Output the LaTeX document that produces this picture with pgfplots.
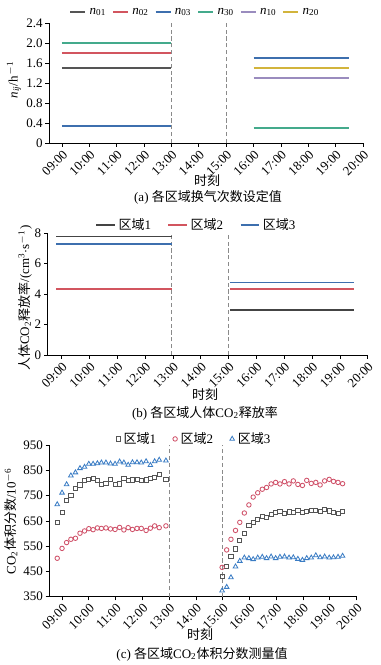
\documentclass[border=0pt]{standalone}
\usepackage{pgfplots}
\pgfplotsset{compat=1.18}
\usepackage{pgfplotstable}
\usepackage{fontspec}
\setmainfont{Liberation Serif}
\newfontfamily\cjk{Noto Sans CJK SC}
\newcommand{\zh}[1]{{\cjk #1}}
\newcommand{\fs}{\fontsize{7.8}{9}\selectfont}

\definecolor{cgray}{HTML}{555555}
\definecolor{cred}{HTML}{D2555F}
\definecolor{cblue}{HTML}{3D6FAE}
\definecolor{cteal}{HTML}{44AA8C}
\definecolor{cpurp}{HTML}{9A8CBE}
\definecolor{cyell}{HTML}{D2B43C}
\definecolor{cdash}{HTML}{8A8A8A}
\definecolor{mred}{HTML}{CF5068}
\definecolor{mblue}{HTML}{3A7CC4}

\pgfplotstableread{
t r1 r2 r3
8.82 644 502 715
9.00 684 541 761
9.17 730 564 794
9.33 751 577 829
9.50 779 581 841
9.67 792 601 858
9.84 809 610 863
10.00 815 619 875
10.16 818 615 875
10.32 809 622 877
10.47 793 620 880
10.64 798 622 880
10.81 814 618 876
10.98 794 616 875
11.15 796 624 884
11.31 818 614 880
11.47 809 623 871
11.63 812 616 881
11.80 815 620 881
11.96 810 620 880
12.14 812 612 885
12.30 819 621 870
12.46 822 630 885
12.63 835 623 891
12.88 815 630 888
}\morning
\pgfplotstableread{
t r1 r2 r3
14.98 429 466 374
15.15 469 535 388
15.31 510 577 426
15.48 539 612 469
15.64 574 644 491
15.81 601 681 504
15.98 631 713 502
16.14 644 744 498
16.31 656 761 504
16.48 669 775 507
16.64 663 782 502
16.81 677 796 508
16.98 682 802 502
17.14 688 796 507
17.31 678 805 508
17.48 685 796 504
17.64 684 808 505
17.81 690 794 499
17.98 684 790 495
18.14 686 810 502
18.31 692 798 504
18.48 692 802 513
18.64 686 792 505
18.81 694 808 508
18.98 689 814 504
19.14 684 806 505
19.31 680 802 507
19.48 686 797 511
}\afternoon

\pgfplotsset{
  mystyle/.style={
    scale only axis,
    axis x line=bottom, axis y line=left,
    axis line style={-, black, line width=0.5pt},
    x axis line style={-}, y axis line style={-},
    tick align=outside, major tick length=2.2pt,
    tick style={black, line width=0.4pt},
    xmax=20,
    xtick={9,...,20},
    xticklabels={09:00,10:00,11:00,12:00,13:00,14:00,15:00,16:00,17:00,18:00,19:00,20:00},
    xticklabel style={rotate=45, anchor=north east, inner sep=1pt},
    ticklabel style={font=\fs},
    yticklabel style={inner sep=1.5pt},
    /pgf/number format/assume math mode=true,
    legend style={draw=none, fill=none, font=\fs, legend columns=-1, anchor=center,
      /tikz/every even column/.append style={column sep=5pt}},
  },
  vdash/.style={cdash, line width=0.6pt, dash pattern=on 2.5pt off 1.6pt, forget plot},
}

\begin{document}
\fs
\begin{tikzpicture}
\path[use as bounding box] (0,0) rectangle (228pt,-399pt);

% ---------- (a) ----------
\begin{axis}[mystyle,
  at={(29.4pt,-85.8pt)}, anchor=south west,
  width=188.4pt, height=72pt,
  xmin=8.525, ymin=0, ymax=2.4,
  ytick={0,0.4,0.8,1.2,1.6,2.0,2.4},
  yticklabels={0,0.4,0.8,1.2,1.6,2.0,2.4},
  legend style={at={(0.468,1.092)}, /tikz/every even column/.append style={column sep=1.5pt},
    /tikz/every odd column/.append style={inner xsep=1pt}},
  legend image code/.code={\draw[#1] (0pt,0pt) -- (9pt,0pt);},
]
\addplot[vdash] coordinates {(13,0) (13,2.4)};
\addplot[vdash] coordinates {(15,0) (15,2.4)};
\addplot[cgray, line width=1.2pt] coordinates {(9,1.5) (13,1.5)};
\addplot[cred, line width=1.2pt] coordinates {(9,1.8) (13,1.8)};
\addplot[cblue, line width=1.2pt] coordinates {(9,0.34) (13,0.34)};
\addplot[cteal, line width=1.2pt] coordinates {(9,2.0) (13,2.0)};
\addplot[cpurp, line width=1.2pt] coordinates {(16,1.3) (19.5,1.3)};
\addplot[cyell, line width=1.2pt] coordinates {(16,1.5) (19.5,1.5)};
\addplot[cblue, line width=1.2pt, forget plot] coordinates {(16,1.7) (19.5,1.7)};
\addplot[cteal, line width=1.2pt, forget plot] coordinates {(16,0.3) (19.5,0.3)};
\legend{\textit{n}\textsubscript{01},\textit{n}\textsubscript{02},\textit{n}\textsubscript{03},\textit{n}\textsubscript{30},\textit{n}\textsubscript{10},\textit{n}\textsubscript{20}}
\end{axis}
\node[rotate=90, font=\fs] at (8.4pt,-48pt) {\textit{n}\textsubscript{\textit{ij}}/h\textsuperscript{$-$1}};
\node[font=\fs] at (124.2pt,-108.6pt) {\zh{时刻}};
\node[font=\fs] at (124.8pt,-118.2pt) {(a) \zh{各区域换气次数设定值}};

% ---------- (b) ----------
\begin{axis}[mystyle,
  at={(28.6pt,-213pt)}, anchor=south west,
  width=192pt, height=73pt,
  xmin=8.496, ymin=0, ymax=8,
  ytick={0,2,4,6,8},
  legend style={at={(0.467,1.068)}, /tikz/every even column/.append style={column sep=8pt}},
  legend image code/.code={\draw[#1] (0pt,0pt) -- (11pt,0pt);},
]
\addplot[vdash] coordinates {(12.95,0) (12.95,8)};
\addplot[vdash] coordinates {(15,0) (15,8)};
\addplot[cgray!80!black, line width=0.8pt] coordinates {(8.8,7.8) (12.95,7.8)};
\addplot[cred, line width=0.8pt] coordinates {(8.8,4.35) (12.95,4.35)};
\addplot[cblue, line width=0.8pt] coordinates {(8.8,7.3) (12.95,7.3)};
\addplot[cgray!80!black, line width=0.8pt, forget plot] coordinates {(15.05,2.95) (19.5,2.95)};
\addplot[cred, line width=0.8pt, forget plot] coordinates {(15.05,4.35) (19.5,4.35)};
\addplot[cblue, line width=0.8pt, forget plot] coordinates {(15.05,4.78) (19.5,4.78)};
\legend{\zh{区域}1,\zh{区域}2,\zh{区域}3}
\end{axis}
\node[rotate=90, font=\fs] at (15pt,-178.8pt) {\zh{人体}CO\textsubscript{2}\zh{释放率}/(cm\textsuperscript{3}$\cdot$s\textsuperscript{$-$1})};
\node[font=\fs] at (123pt,-237pt) {\zh{时刻}};
\node[font=\fs] at (123pt,-247.8pt) {(b) \zh{各区域人体}CO\textsubscript{2}\zh{释放率}};

% ---------- (c) ----------
\begin{axis}[mystyle,
  at={(29.6pt,-358pt)}, anchor=south west,
  width=184.3pt, height=91pt,
  xmin=8.525, ymin=350, ymax=950,
  ytick={350,450,550,650,750,850,950},
  legend style={at={(0.474,1.04)}, /tikz/every even column/.append style={column sep=8pt}},
]
\addplot[vdash] coordinates {(13,350) (13,950)};
\addplot[vdash] coordinates {(15,350) (15,950)};
\addplot[only marks, mark=square, mark size=1.25pt, cgray, mark options={line width=0.5pt}] table[x=t,y=r1] {\morning};
\addplot[only marks, mark=o, mark size=1.35pt, mred, mark options={line width=0.5pt}] table[x=t,y=r2] {\morning};
\addplot[only marks, mark=triangle, mark size=1.6pt, mblue, mark options={line width=0.5pt}] table[x=t,y=r3] {\morning};
\addplot[only marks, mark=square, mark size=1.25pt, cgray, mark options={line width=0.5pt}, forget plot] table[x=t,y=r1] {\afternoon};
\addplot[only marks, mark=o, mark size=1.35pt, mred, mark options={line width=0.5pt}, forget plot] table[x=t,y=r2] {\afternoon};
\addplot[only marks, mark=triangle, mark size=1.6pt, mblue, mark options={line width=0.5pt}, forget plot] table[x=t,y=r3] {\afternoon};
\legend{\zh{区域}1,\zh{区域}2,\zh{区域}3}
\end{axis}
\node[rotate=90, font=\fs] at (6.6pt,-312.6pt) {CO\textsubscript{2}\zh{体积分数}/10\textsuperscript{$-$6}};
\node[font=\fs] at (120pt,-381pt) {\zh{时刻}};
\node[font=\fs] at (121.2pt,-392.4pt) {(c) \zh{各区域}CO\textsubscript{2}\zh{体积分数测量值}};
\end{tikzpicture}
\end{document}
